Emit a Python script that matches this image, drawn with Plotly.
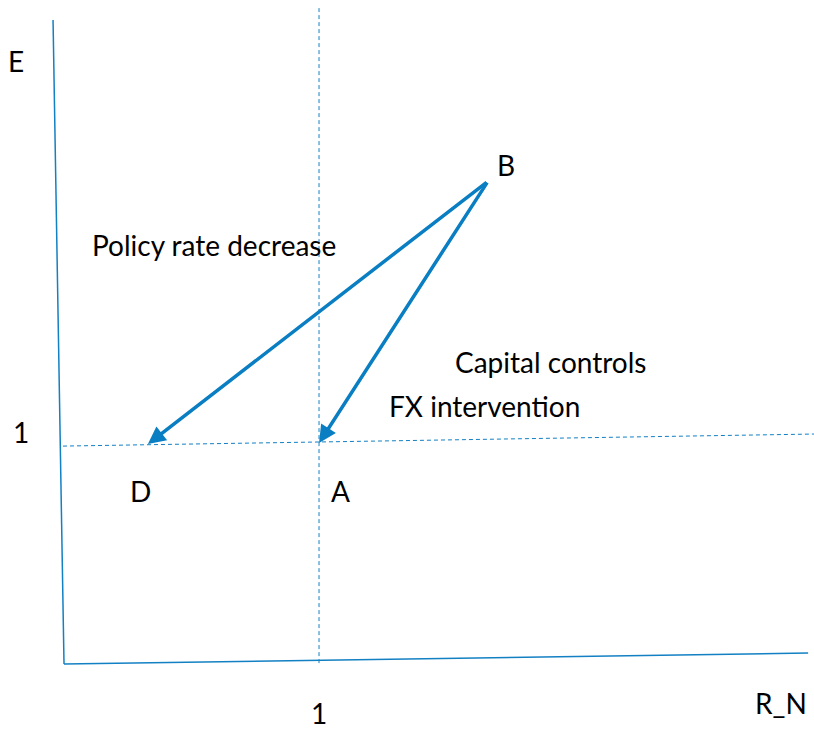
import plotly.graph_objects as go

# Diagram points in (R_N, E) units; A is the (1, 1) point
axis_y_x = [-0.043, 0.0]
axis_y_y = [2.932, -0.009]
axis_x_x = [0.0, 2.918]
axis_x_y = [-0.009, 0.041]
vdash_x = [1.0, 1.0]
vdash_y = [2.986, -0.014]
hdash_x = [-0.004, 2.941]
hdash_y = [0.986, 1.041]
point_B = (1.663, 2.196)
point_A = (1.0, 1.0)
point_D = (0.329, 0.995)

labels = {
    "E": (-0.19, 2.745),
    "1_y": (-0.17, 1.05),
    "B": (1.735, 2.27),
    "Policy rate decrease": (0.59, 1.904),
    "Capital controls": (1.906, 1.37),
    "FX intervention": (1.647, 1.169),
    "D": (0.30, 0.78),
    "A": (1.085, 0.78),
    "1_x": (1.0, -0.235),
    "R_N": (2.81, -0.185),
}

BLUE = "#1380c3"
fig = go.Figure()
fig.add_trace(go.Scatter(x=axis_y_x, y=axis_y_y, mode="lines", line=dict(color=BLUE, width=1.5)))
fig.add_trace(go.Scatter(x=axis_x_x, y=axis_x_y, mode="lines", line=dict(color=BLUE, width=1.5)))
fig.add_trace(go.Scatter(x=vdash_x, y=vdash_y, mode="lines", line=dict(color=BLUE, width=1, dash="4px,3px")))
fig.add_trace(go.Scatter(x=hdash_x, y=hdash_y, mode="lines", line=dict(color=BLUE, width=1, dash="4px,3px")))

for tgt in (point_D, point_A):
    fig.add_annotation(x=tgt[0], y=tgt[1], ax=point_B[0], ay=point_B[1],
                       xref="x", yref="y", axref="x", ayref="y",
                       showarrow=True, arrowhead=2, arrowsize=1.0, arrowwidth=3.5,
                       arrowcolor="#0a7ec2", text="")

for name, (lx, ly) in labels.items():
    txt = name.split("_")[0] if name in ("1_y", "1_x") else name
    fig.add_annotation(x=lx, y=ly, xref="x", yref="y", text=txt, showarrow=False,
                       font=dict(family="Lato", size=28, color="#000000"))

fig.update_layout(
    width=814, height=731, margin=dict(l=0, r=0, t=0, b=0),
    paper_bgcolor="white", plot_bgcolor="white", showlegend=False,
    xaxis=dict(range=[-0.251, 2.941], visible=False, fixedrange=True),
    yaxis=dict(range=[-0.315, 3.023], visible=False, fixedrange=True),
)
fig.write_html("out.html", config={"displayModeBar": False},
               post_script="document.body.style.margin='0';document.body.style.overflow='hidden';")
